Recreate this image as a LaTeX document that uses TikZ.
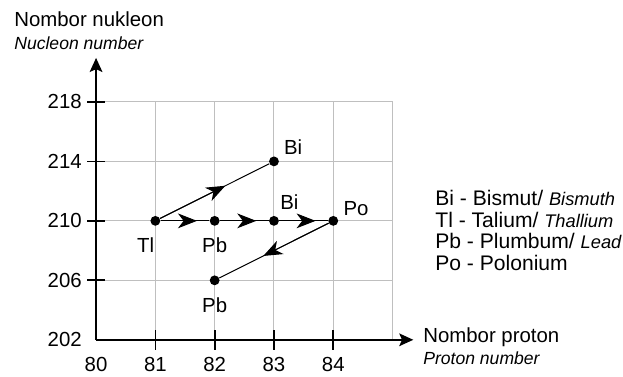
\documentclass[tikz,border=0pt]{standalone}
\usepackage{fontspec}
\setmainfont{Liberation Sans}
\usetikzlibrary{arrows.meta, positioning, calc}

\newcommand{\engl}[1]{{\fontsize{13}{14}\selectfont\itshape #1}}

\begin{document}
\begin{tikzpicture}[
      x=1.4825cm, y=0.3717cm,
      txt/.style={inner sep=0pt, font=\fontsize{14.5}{15.4}\selectfont},
      sub/.style={inner sep=0pt, font=\fontsize{12.5}{14}\selectfont\itshape},
      gridline/.style={draw=black!25, line width=0.7pt},
      axis/.style={line width=1.2pt, -{Stealth[length=10pt, width=9pt, inset=2pt]}},
      axtick/.style={line width=1.2pt},
      nuc/.style={circle, fill=black, inner sep=0pt, minimum size=7pt},
      decay/.style={line width=0.7pt},
      decayhead/.style={line width=0.7pt, -{Stealth[length=13.5pt, width=10.5pt, inset=4pt]}}
    ]

    \useasboundingbox (78.381,199.513) rectangle (88.887,224.857);

    % grid
    \foreach \p in {81,...,85} \draw[gridline] (\p,202) -- (\p,218);
    \foreach \n in {206,210,214,218} \draw[gridline] (80,\n) -- (85,\n);

    % axes
    \coordinate (o) at (80,202);
    \coordinate (ytip) at (80,220.96);
    \coordinate (xtip) at (85.35,202);
    \draw[axis] (o) -- (ytip);
    \draw[axis] (o) -- (xtip);

    \foreach \n in {206,210,214,218} \draw[axtick] ([xshift=-6.4pt]80,\n) -- ([xshift=6.4pt]80,\n);
    \foreach \p in {81,...,84} \draw[axtick] ([yshift=-7.1pt]\p,202) -- ([yshift=7.1pt]\p,202);
    \foreach \n in {202,206,...,218} \node[txt, anchor=east] (ny\n) at ([xshift=-10pt]80,\n) {\n};
    \foreach \p in {80,...,84} \node[txt, anchor=north] (nx\p) at ([yshift=-12pt]\p,202) {\p};

    \node[txt, anchor=base west] (ylab) at (78.617,223.06) {Nombor nukleon};
    \node[sub, anchor=base west] (ylabsub) at ([yshift=-15.9pt]ylab.base west) {Nucleon number};
    \node[txt, anchor=base west] (xlab) at (85.514,201.8) {Nombor proton};
    \node[sub, anchor=base west] (xlabsub) at ([yshift=-15.6pt]xlab.base west) {Proton number};

    % nuclides
    \node[nuc] (tl) at (81,210) {};
    \node[nuc] (pb1) at (82,210) {};
    \node[nuc] (bi1) at (83,214) {};
    \node[nuc] (bi2) at (83,210) {};
    \node[nuc] (po) at (84,210) {};
    \node[nuc] (pb2) at (82,206) {};

    \node[txt, above right=5pt and 7pt of bi1.center] (bi1l) {Bi};
    \node[txt, above right=7.8pt and 4.3pt of bi2.center] (bi2l) {Bi};
    \node[txt, above right=3.6pt and 7.1pt of po.center] (pol) {Po};
    \node[txt, below left=12pt and 0.7pt of tl.center] (tll) {Tl};
    \node[txt, below=12pt of pb1.center] (pb1l) {Pb};
    \node[txt, below=12pt of pb2.center] (pb2l) {Pb};

    % decay chain, heads just past the middle
    \draw[decay] (tl) -- (bi1);
    \draw[decay] (tl) -- (pb1);
    \draw[decay] (pb1) -- (bi2);
    \draw[decay] (bi2) -- (po);
    \draw[decay] (po) -- (pb2);
    \draw[decayhead] (tl) -- ($(tl)!0.5!(bi1)!8.5pt!(bi1)$);
    \draw[decayhead] (tl) -- ($(tl)!0.5!(pb1)!8.5pt!(pb1)$);
    \draw[decayhead] (pb1) -- ($(pb1)!0.5!(bi2)!8.5pt!(bi2)$);
    \draw[decayhead] (bi2) -- ($(bi2)!0.5!(po)!8.5pt!(po)$);
    \draw[decayhead] (po) -- ($(po)!0.5!(pb2)!8.5pt!(pb2)$);

    \node[txt, anchor=north west, align=left, font=\fontsize{15}{15.4}\selectfont] (legend) at (85.717,212.08)
      {Bi - Bismut/ \engl{Bismuth}\\Tl - Talium/ \engl{Thallium}\\Pb - Plumbum/ \engl{Lead}\\Po - Polonium};
  \end{tikzpicture}
\end{document}
